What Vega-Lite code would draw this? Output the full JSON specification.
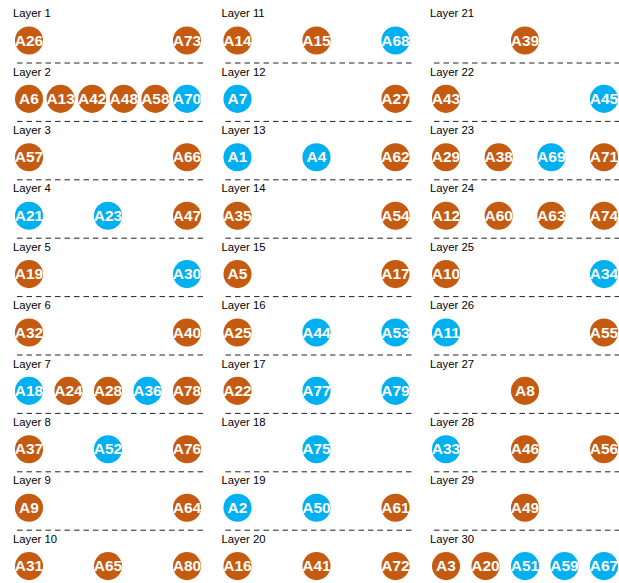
{
  "$schema": "https://vega.github.io/schema/vega-lite/v6.json",
  "padding": {"left": 12, "top": 8, "right": 0, "bottom": 0},
  "bounds": "flush",
  "background": "white",
  "config": {"view": {"stroke": null}, "font": "Liberation Sans"},
  "data": {"values": [
    {"layer": 1, "node": "A26", "id": 26, "kind": "p"},
    {"layer": 1, "node": "A73", "id": 73, "kind": "p"},
    {"layer": 2, "node": "A6", "id": 6, "kind": "p"},
    {"layer": 2, "node": "A13", "id": 13, "kind": "p"},
    {"layer": 2, "node": "A42", "id": 42, "kind": "p"},
    {"layer": 2, "node": "A48", "id": 48, "kind": "p"},
    {"layer": 2, "node": "A58", "id": 58, "kind": "p"},
    {"layer": 2, "node": "A70", "id": 70, "kind": "s"},
    {"layer": 3, "node": "A57", "id": 57, "kind": "p"},
    {"layer": 3, "node": "A66", "id": 66, "kind": "p"},
    {"layer": 4, "node": "A21", "id": 21, "kind": "s"},
    {"layer": 4, "node": "A23", "id": 23, "kind": "s"},
    {"layer": 4, "node": "A47", "id": 47, "kind": "p"},
    {"layer": 5, "node": "A19", "id": 19, "kind": "p"},
    {"layer": 5, "node": "A30", "id": 30, "kind": "s"},
    {"layer": 6, "node": "A32", "id": 32, "kind": "p"},
    {"layer": 6, "node": "A40", "id": 40, "kind": "p"},
    {"layer": 7, "node": "A18", "id": 18, "kind": "s"},
    {"layer": 7, "node": "A24", "id": 24, "kind": "p"},
    {"layer": 7, "node": "A28", "id": 28, "kind": "p"},
    {"layer": 7, "node": "A36", "id": 36, "kind": "s"},
    {"layer": 7, "node": "A78", "id": 78, "kind": "p"},
    {"layer": 8, "node": "A37", "id": 37, "kind": "p"},
    {"layer": 8, "node": "A52", "id": 52, "kind": "s"},
    {"layer": 8, "node": "A76", "id": 76, "kind": "p"},
    {"layer": 9, "node": "A9", "id": 9, "kind": "p"},
    {"layer": 9, "node": "A64", "id": 64, "kind": "p"},
    {"layer": 10, "node": "A31", "id": 31, "kind": "p"},
    {"layer": 10, "node": "A65", "id": 65, "kind": "p"},
    {"layer": 10, "node": "A80", "id": 80, "kind": "p"},
    {"layer": 11, "node": "A14", "id": 14, "kind": "p"},
    {"layer": 11, "node": "A15", "id": 15, "kind": "p"},
    {"layer": 11, "node": "A68", "id": 68, "kind": "s"},
    {"layer": 12, "node": "A7", "id": 7, "kind": "s"},
    {"layer": 12, "node": "A27", "id": 27, "kind": "p"},
    {"layer": 13, "node": "A1", "id": 1, "kind": "s"},
    {"layer": 13, "node": "A4", "id": 4, "kind": "s"},
    {"layer": 13, "node": "A62", "id": 62, "kind": "p"},
    {"layer": 14, "node": "A35", "id": 35, "kind": "p"},
    {"layer": 14, "node": "A54", "id": 54, "kind": "p"},
    {"layer": 15, "node": "A5", "id": 5, "kind": "p"},
    {"layer": 15, "node": "A17", "id": 17, "kind": "p"},
    {"layer": 16, "node": "A25", "id": 25, "kind": "p"},
    {"layer": 16, "node": "A44", "id": 44, "kind": "s"},
    {"layer": 16, "node": "A53", "id": 53, "kind": "s"},
    {"layer": 17, "node": "A22", "id": 22, "kind": "p"},
    {"layer": 17, "node": "A77", "id": 77, "kind": "s"},
    {"layer": 17, "node": "A79", "id": 79, "kind": "s"},
    {"layer": 18, "node": "A75", "id": 75, "kind": "s"},
    {"layer": 19, "node": "A2", "id": 2, "kind": "s"},
    {"layer": 19, "node": "A50", "id": 50, "kind": "s"},
    {"layer": 19, "node": "A61", "id": 61, "kind": "p"},
    {"layer": 20, "node": "A16", "id": 16, "kind": "p"},
    {"layer": 20, "node": "A41", "id": 41, "kind": "p"},
    {"layer": 20, "node": "A72", "id": 72, "kind": "p"},
    {"layer": 21, "node": "A39", "id": 39, "kind": "p"},
    {"layer": 22, "node": "A43", "id": 43, "kind": "p"},
    {"layer": 22, "node": "A45", "id": 45, "kind": "s"},
    {"layer": 23, "node": "A29", "id": 29, "kind": "p"},
    {"layer": 23, "node": "A38", "id": 38, "kind": "p"},
    {"layer": 23, "node": "A69", "id": 69, "kind": "s"},
    {"layer": 23, "node": "A71", "id": 71, "kind": "p"},
    {"layer": 24, "node": "A12", "id": 12, "kind": "p"},
    {"layer": 24, "node": "A60", "id": 60, "kind": "p"},
    {"layer": 24, "node": "A63", "id": 63, "kind": "p"},
    {"layer": 24, "node": "A74", "id": 74, "kind": "p"},
    {"layer": 25, "node": "A10", "id": 10, "kind": "p"},
    {"layer": 25, "node": "A34", "id": 34, "kind": "s"},
    {"layer": 26, "node": "A11", "id": 11, "kind": "s"},
    {"layer": 26, "node": "A55", "id": 55, "kind": "p"},
    {"layer": 27, "node": "A8", "id": 8, "kind": "p"},
    {"layer": 28, "node": "A33", "id": 33, "kind": "s"},
    {"layer": 28, "node": "A46", "id": 46, "kind": "p"},
    {"layer": 28, "node": "A56", "id": 56, "kind": "p"},
    {"layer": 29, "node": "A49", "id": 49, "kind": "p"},
    {"layer": 30, "node": "A3", "id": 3, "kind": "p"},
    {"layer": 30, "node": "A20", "id": 20, "kind": "p"},
    {"layer": 30, "node": "A51", "id": 51, "kind": "s"},
    {"layer": 30, "node": "A59", "id": 59, "kind": "s"},
    {"layer": 30, "node": "A67", "id": 67, "kind": "s"}
  ]},
  "facet": {
    "field": "layer",
    "type": "ordinal",
    "sort": [1, 11, 21, 2, 12, 22, 3, 13, 23, 4, 14, 24, 5, 15, 25, 6, 16, 26, 7, 17, 27, 8, 18, 28, 9, 19, 29, 10, 20, 30],
    "header": {
      "title": null,
      "labelExpr": "'\u00a0Layer ' + datum.value",
      "labelFont": "Liberation Sans",
      "labelFontSize": 11.3,
      "labelColor": "#000000",
      "labelAnchor": "start",
      "labelAlign": "left",
      "labelBaseline": "alphabetic",
      "labelPadding": -3.5
    }
  },
  "columns": 3,
  "spacing": {"row": 27.4, "column": 18.5},
  "resolve": {"scale": {"x": "independent"}},
  "spec": {
    "width": 190,
    "height": 31,
    "layer": [
      {
        "transform": [
          {"filter": "datum.layer % 10 != 0"},
          {"aggregate": [{"op": "count", "as": "n"}], "groupby": ["layer"]}
        ],
        "mark": {"type": "rule", "strokeDash": [5.5, 4], "color": "#222222", "strokeWidth": 1, "yOffset": 7},
        "encoding": {"y": {"value": "height"}}
      },
      {
        "mark": {"type": "circle", "size": 790, "opacity": 1},
        "encoding": {
          "x": {"field": "node", "type": "nominal", "sort": {"field": "id", "op": "min"}, "axis": null, "scale": {"type": "point", "padding": 0, "range": [16, 174]}},
          "color": {"field": "kind", "type": "nominal", "legend": null, "scale": {"domain": ["p", "s"], "range": ["#C55A11", "#00B0F0"]}}
        }
      },
      {
        "mark": {"type": "text", "font": "Liberation Sans", "fontWeight": "bold", "fontSize": 15.5, "color": "#FFFFFF", "baseline": "middle", "align": "center"},
        "encoding": {
          "x": {"field": "node", "type": "nominal", "sort": {"field": "id", "op": "min"}, "axis": null, "scale": {"type": "point", "padding": 0, "range": [16, 174]}},
          "text": {"field": "node"}
        }
      }
    ]
  }
}
